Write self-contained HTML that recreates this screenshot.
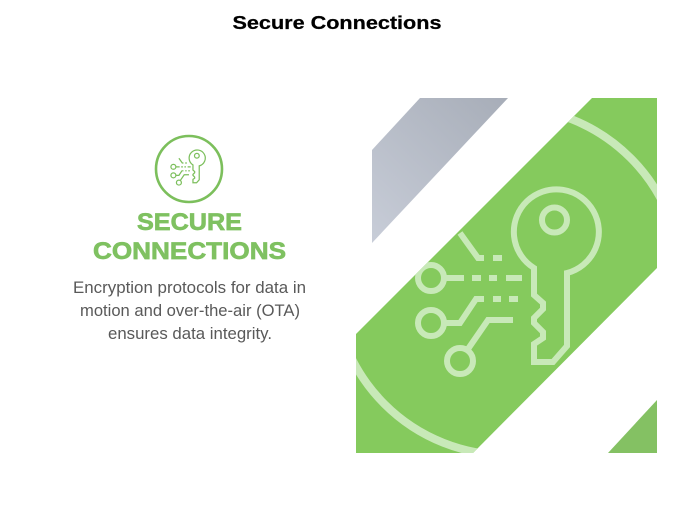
<!DOCTYPE html>
<html>
<head>
<meta charset="utf-8">
<style>
html,body{margin:0;padding:0;background:#fff;width:674px;height:506px;overflow:hidden}
svg{display:block}
text{font-family:"Liberation Sans",sans-serif}
</style>
</head>
<body>
<svg width="674" height="506" viewBox="0 0 674 506" xmlns="http://www.w3.org/2000/svg">
<defs>
<linearGradient id="g" gradientUnits="userSpaceOnUse" x1="372" y1="243" x2="508" y2="98">
<stop offset="0" stop-color="#c8cdd8"/>
<stop offset="1" stop-color="#a7adb8"/>
</linearGradient>
<clipPath id="c"><polygon points="592,98 657,98 657,268 473,453 356,453 356,334"/></clipPath>
<g id="icon" fill="none">
<path d="M534,268 L534,295 L543,303 L543,309 L534,318 L534,323 L543,332 L543,338 L534,344 L534,362 L553,362 L567,346 L567,273 A42.5,42.5 0 1 0 534,268 Z"/>
<circle cx="554.5" cy="220" r="12.5"/>
<path d="M460,233 L478,258 L484,258 M493,258 H502"/>
<circle cx="431" cy="278" r="13"/>
<path d="M445,278 H464 M472,278 H481 M489,278 H497 M506,278 H522"/>
<circle cx="431" cy="323" r="13"/>
<path d="M445,323 H460 L476,299 H484 M493,299 H501 M509,299 H518"/>
<circle cx="460" cy="361" r="13"/>
<path d="M468,349 L488,320 H513"/>
</g>
</defs>
<text x="337" y="29" text-anchor="middle" font-size="18.5" font-weight="700" fill="#000" stroke="#000" stroke-width="0.25" textLength="209" lengthAdjust="spacingAndGlyphs">Secure Connections</text>

<polygon points="420,98 508,98 372,243 372,150" fill="url(#g)"/>
<polygon points="592,98 657,98 657,268 473,453 356,453 356,334" fill="#85ca5d"/>
<polygon points="657,400 657,453 608,453" fill="#84c163"/>
<g clip-path="url(#c)">
<circle cx="507.5" cy="281" r="174" fill="none" stroke="#c8e9b8" stroke-width="8"/>
<use href="#icon" stroke="#c8e9b8" stroke-width="6"/>
</g>

<circle cx="189" cy="169" r="33" fill="none" stroke="#7cbf5c" stroke-width="2.6"/>
<g transform="translate(91.5 114) scale(0.19)">
<use href="#icon" stroke="#7cbf5c" stroke-width="6.5"/>
</g>

<text x="189.5" y="230" text-anchor="middle" font-size="24" font-weight="700" fill="#7fc161" stroke="#7fc161" stroke-width="0.7" textLength="105" lengthAdjust="spacingAndGlyphs">SECURE</text>
<text x="189.5" y="259" text-anchor="middle" font-size="24" font-weight="700" fill="#7fc161" stroke="#7fc161" stroke-width="0.7" textLength="193" lengthAdjust="spacingAndGlyphs">CONNECTIONS</text>

<text x="189.5" y="293" text-anchor="middle" font-size="16.5" fill="#595959" textLength="233" lengthAdjust="spacingAndGlyphs">Encryption protocols for data in</text>
<text x="190" y="316" text-anchor="middle" font-size="16.5" fill="#595959" textLength="220" lengthAdjust="spacingAndGlyphs">motion and over-the-air (OTA)</text>
<text x="190" y="339" text-anchor="middle" font-size="16.5" fill="#595959" textLength="164" lengthAdjust="spacingAndGlyphs">ensures data integrity.</text>
</svg>
</body>
</html>
